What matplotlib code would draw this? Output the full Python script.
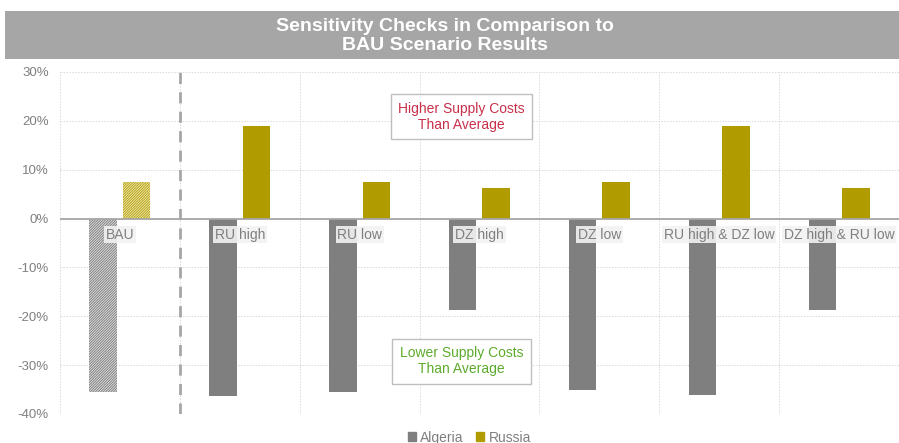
import matplotlib.pyplot as plt
from matplotlib.patches import Rectangle, Patch
from matplotlib import font_manager
import numpy as np

scenarios = ['BAU', 'RU high', 'RU low', 'DZ high', 'DZ low',
             'RU high & DZ low', 'DZ high & RU low']
algeria = [-35.4, -36.3, -35.4, -18.8, -35.0, -36.1, -18.8]
russia = [7.4, 19.0, 7.4, 6.3, 7.4, 19.0, 6.3]
yticks = [-40, -30, -20, -10, 0, 10, 20, 30]

ALG_COL = '#7f7f7f'
RUS_COL = '#b09b00'
TXT_COL = '#7f7f7f'

names = {f.name for f in font_manager.fontManager.ttflist}
title_font = 'Liberation Sans Narrow' if 'Liberation Sans Narrow' in names else 'Liberation Sans'
plt.rcParams['font.family'] = ['Liberation Sans', 'DejaVu Sans']
plt.rcParams['hatch.linewidth'] = 0.8

fig = plt.figure(figsize=(8.99, 4.43), dpi=100)
ax = fig.add_axes([0.0667, 0.0655, 0.9333, 0.772])

# title band
fig.patches.append(Rectangle((0.0056, 0.867), 0.9944, 0.108, transform=fig.transFigure,
                             facecolor='#a6a6a6', edgecolor='none', zorder=0))
fig.text(0.495, 0.919, 'Sensitivity Checks in Comparison to\nBAU Scenario Results',
         ha='center', va='center', color='white', fontsize=14, fontweight='bold',
         family=title_font, linespacing=1.2)

x = np.arange(len(scenarios))
w = 0.23
off = 0.14
for i in x:
    if i == 0:
        ax.bar(i - off, algeria[i], w, facecolor='#f0f0f0', edgecolor='#858585',
               hatch='/' * 13, linewidth=0, zorder=3)
        ax.bar(i + off, russia[i], w, facecolor='#f5f0c8', edgecolor='#bca81c',
               hatch='/' * 13, linewidth=0, zorder=3)
    else:
        ax.bar(i - off, algeria[i], w, color=ALG_COL, zorder=3)
        ax.bar(i + off, russia[i], w, color=RUS_COL, zorder=3)

ax.set_xlim(-0.5, len(scenarios) - 0.5)
ax.set_ylim(-40, 30)
ax.set_yticks(yticks)
ax.set_yticklabels([f'{v}%' for v in yticks])
ax.set_xticks([])
ax.tick_params(axis='y', length=0, colors=TXT_COL, labelsize=9.5, pad=8)
for s in ax.spines.values():
    s.set_visible(False)

# gridlines
for v in yticks:
    ax.axhline(v, color='#d9d9d9', lw=0.7, ls=(0, (1.5, 1.5)), zorder=1)
for b in np.arange(-0.5, len(scenarios) - 0.4, 1.0):
    ax.axvline(b, color='#d9d9d9', lw=0.7, ls=(0, (1.5, 1.5)), zorder=1)
ax.axhline(0, color='#a6a6a6', lw=1.3, zorder=4)
ax.axvline(0.5, color='#a6a6a6', lw=2, ls=(0, (4, 3)), zorder=4)

# category labels just under zero line
for i, name in enumerate(scenarios):
    ax.text(i, -3.3, name, ha='center', va='center', color=TXT_COL, fontsize=10,
            zorder=5, bbox=dict(facecolor='#f2f2f2', edgecolor='none', pad=1.2, alpha=0.9))

ax.text(2.85, 20.8, 'Higher Supply Costs\nThan Average', ha='center', va='center',
        color='#c8304a', fontsize=10, zorder=5, linespacing=1.15,
        bbox=dict(facecolor='white', edgecolor='#bfbfbf', boxstyle='square,pad=0.55'))
ax.text(2.85, -29.2, 'Lower Supply Costs\nThan Average', ha='center', va='center',
        color='#5cab2c', fontsize=10, zorder=5, linespacing=1.15,
        bbox=dict(facecolor='white', edgecolor='#bfbfbf', boxstyle='square,pad=0.55'))

handles = [Patch(color=ALG_COL, label='Algeria'), Patch(color=RUS_COL, label='Russia')]
fig.legend(handles=handles, loc='center', bbox_to_anchor=(0.522, 0.012), ncol=2,
           frameon=False, fontsize=10, labelcolor=TXT_COL, handlelength=0.6,
           handleheight=0.6, handletextpad=0.3, columnspacing=0.9)

fig.savefig('out.png', dpi=100)
